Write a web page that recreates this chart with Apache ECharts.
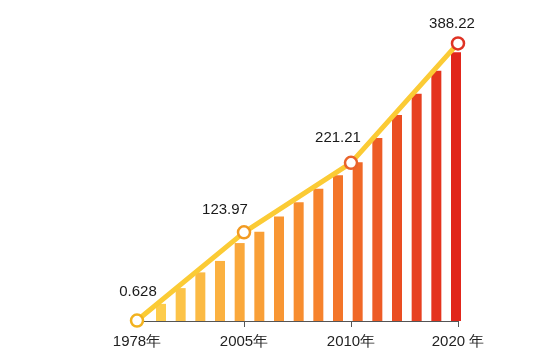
<!DOCTYPE html>
<html>
<head>
<meta charset="utf-8">
<script src="https://cdn.jsdelivr.net/npm/echarts@6/dist/echarts.min.js"></script>
<style>
html,body{margin:0;padding:0;background:#fff;}
#c{width:550px;height:363px;}
</style>
</head>
<body>
<div id="c"></div>
<script>
// Data
var tickLabels = ['1978年', '2005年', '2010年', '2020 年'];
var lineValues = [0.628, 123.97, 221.21, 388.22];
var barCategories = ['1','2','3','4','5','6','7','8','9','10','11','12','13','14','15','16'];
var barValues = [24, 46, 68, 84, 109, 125, 146, 166, 185, 204, 222, 256, 288, 318, 350, 376];

// Styles
var labelOffsets = [[1, -9], [-19, -3], [-13, -5], [-6, 0]];
var circleColors = ['#F2B21F', '#F29A22', '#E9632B', '#DF3324'];
var stops = [[0, [253, 204, 76]], [0.5, [247, 137, 45]], [1, [225, 38, 27]]];
function lerpColor(t) {
  var a = stops[0], b = stops[1];
  if (t > 0.5) { a = stops[1]; b = stops[2]; }
  var u = (t - a[0]) / (b[0] - a[0]);
  var c = a[1].map(function (v, k) { return Math.round(v + (b[1][k] - v) * u); });
  return 'rgb(' + c.join(',') + ')';
}

var chart = echarts.init(document.getElementById('c'), null, {renderer: 'canvas'});
var font = '"Liberation Sans", Arial, sans-serif';

var lineData = lineValues.map(function (v, i) {
  return {
    value: [i, v],
    itemStyle: {color: '#fff', borderColor: circleColors[i], borderWidth: 2.5},
    label: {offset: labelOffsets[i]}
  };
});

chart.setOption({
  animation: false,
  backgroundColor: '#fff',
  grid: [
    {left: 137, right: 92, top: 35, bottom: 42},
    {left: 161, right: 94, top: 35, bottom: 42}
  ],
  xAxis: [
    {
      type: 'value', gridIndex: 0, min: 0, max: 3, interval: 1,
      splitLine: {show: false},
      axisLine: {show: true, lineStyle: {color: '#555', width: 1}},
      axisTick: {show: true, length: 6, lineStyle: {color: '#555'}},
      axisLabel: {
        margin: 13, color: '#222', fontSize: 15, fontFamily: font,
        formatter: function (v) { return tickLabels[Math.round(v)] || ''; }
      }
    },
    {
      type: 'category', gridIndex: 1, data: barCategories, boundaryGap: false,
      show: false
    }
  ],
  yAxis: [
    {type: 'value', gridIndex: 0, min: 0, max: 400, show: false},
    {type: 'value', gridIndex: 1, min: 0, max: 400, show: false}
  ],
  series: [
    {
      type: 'bar', xAxisIndex: 1, yAxisIndex: 1, barWidth: 10, z: 1,
      data: barValues.map(function (v, i) {
        return {value: v, itemStyle: {color: lerpColor(i / (barValues.length - 1))}};
      })
    },
    {
      type: 'line', xAxisIndex: 0, yAxisIndex: 0, z: 5,
      symbol: 'circle', symbolSize: 12,
      lineStyle: {color: '#FBCB35', width: 5},
      label: {
        show: true, position: 'top', distance: 5,
        color: '#1a1a1a', fontSize: 15, fontFamily: font,
        formatter: function (p) { return String(lineValues[p.dataIndex]); }
      },
      data: lineData
    }
  ]
});
</script>
</body>
</html>
